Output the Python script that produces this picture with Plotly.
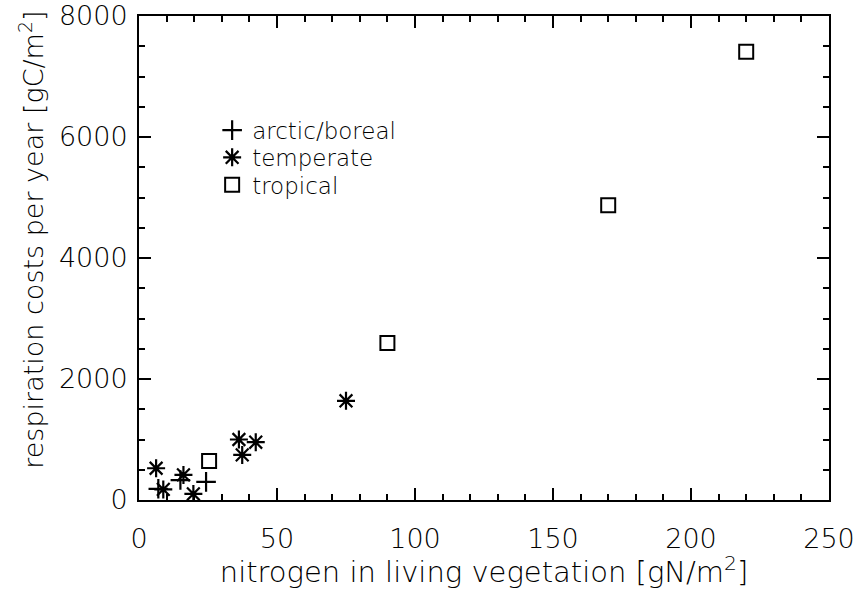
import plotly.graph_objects as go

# arctic/boreal
arctic_x = [24.3, 15.0, 7.0]
arctic_y = [300, 330, 185]
# temperate
temp_x = [75.0, 36.2, 42.3, 37.4, 6.2, 16.1, 8.8, 19.7]
temp_y = [1640, 1000, 955, 745, 525, 415, 175, 100]
# tropical
trop_x = [220.0, 170.0, 90.0, 25.4]
trop_y = [7410, 4870, 2595, 645]

x_ticks = [0, 50, 100, 150, 200, 250]
y_ticks = [0, 2000, 4000, 6000, 8000]

FONT = "DejaVu Sans"
W = 200
fig = go.Figure()
fig.add_trace(go.Scatter(x=arctic_x, y=arctic_y, mode="markers", name="arctic/boreal",
                         legend="legend", showlegend=True,
                         marker=dict(symbol="cross-thin-open", size=14, color="black",
                                     line=dict(width=2.2, color="black"))))
fig.add_trace(go.Scatter(x=temp_x, y=temp_y, mode="markers", name="temperate",
                         legend="legend2", showlegend=True,
                         marker=dict(symbol="asterisk-open", size=15, color="black",
                                     line=dict(width=2.2, color="black"))))
fig.add_trace(go.Scatter(x=trop_x, y=trop_y, mode="markers", name="tropical",
                         legend="legend3", showlegend=True,
                         marker=dict(symbol="square-open", size=14, color="black",
                                     line=dict(width=2, color="black"))))

tickfont = dict(family=FONT, size=27, color="black", weight=W)
titlefont = dict(family=FONT, size=29, color="black", weight=W)
axis_common = dict(showgrid=False, zeroline=False, showline=True, linecolor="black",
                   linewidth=2, mirror="allticks", ticks="inside", ticklen=12,
                   tickwidth=2, tickcolor="black", automargin=False,
                   ticklabeloverflow="allow", tickfont=tickfont)
fig.update_xaxes(range=[0, 250], tickvals=x_ticks, ticktext=[str(v) for v in x_ticks],
                 minor=dict(dtick=10, ticks="inside", ticklen=6, tickwidth=2, tickcolor="black"),
                 ticklabelstandoff=14,
                 title=dict(text="nitrogen in living vegetation [gN/m<sup>2</sup>]",
                            font=titlefont, standoff=5),
                 **axis_common)
fig.update_yaxes(range=[0, 8000], tickvals=y_ticks, ticktext=[str(v) for v in y_ticks],
                 minor=dict(dtick=500, ticks="inside", ticklen=6, tickwidth=2, tickcolor="black"),
                 ticklabelstandoff=4,
                 **axis_common)

fig.add_annotation(text="respiration costs per year [gC/m<sup>2</sup>]",
                   xref="paper", yref="paper", x=-0.157, y=0.537,
                   xanchor="center", yanchor="middle", textangle=-90,
                   showarrow=False,
                   font=dict(family=FONT, size=27, color="black", weight=W))

leg_common = dict(x=0.106, xanchor="left", yanchor="middle", visible=True,
                  font=dict(family=FONT, size=23, color="black", weight=W),
                  bgcolor="rgba(0,0,0,0)", itemwidth=30, borderwidth=0)
fig.update_layout(
    width=854, height=589,
    margin=dict(l=139, r=25, t=16, b=89),
    plot_bgcolor="white", paper_bgcolor="white",
    showlegend=True,
    legend=dict(y=0.764, **leg_common),
    legend2=dict(y=0.708, **leg_common),
    legend3=dict(y=0.651, **leg_common),
)
fig.write_html("out.html")
